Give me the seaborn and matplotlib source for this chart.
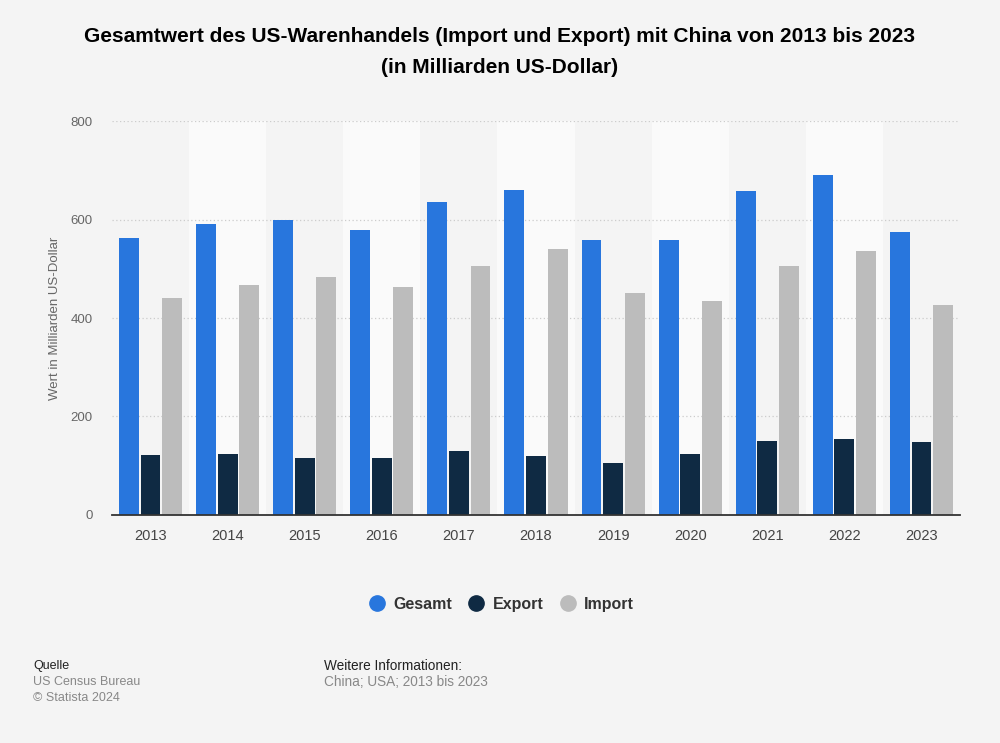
import seaborn as sns
import matplotlib.pyplot as plt
import pandas as pd

# Werte in Milliarden US-Dollar
years = ["2013", "2014", "2015", "2016", "2017", "2018", "2019", "2020", "2021", "2022", "2023"]
gesamt = [562.0, 590.7, 598.1, 578.4, 635.4, 659.8, 558.1, 559.2, 657.4, 690.6, 575.0]
export = [121.7, 123.7, 115.9, 115.6, 129.9, 120.3, 106.4, 124.5, 151.1, 153.8, 147.8]
imports = [440.4, 466.8, 483.2, 462.8, 505.5, 539.5, 451.7, 434.7, 506.4, 536.8, 427.2]
series = ["Gesamt", "Export", "Import"]
colors = ["#2876dd", "#0f2a43", "#bcbcbc"]

df = pd.DataFrame({"Jahr": years * 3,
                   "Serie": [s for s in series for _ in years],
                   "Wert": gesamt + export + imports})

sns.set_style("white")
plt.rcParams["font.family"] = ["Liberation Sans", "DejaVu Sans"]

bg = "#f4f4f4"
fig = plt.figure(figsize=(10, 7.43), dpi=100, facecolor=bg)
ax = fig.add_axes([0.112, 0.307, 0.848, 0.530])
ax.set_facecolor(bg)

# abwechselnde Hintergrundstreifen
for i in range(len(years)):
    if i % 2 == 1:
        ax.axvspan(i - 0.5, i + 0.5, color="#fafafa", zorder=0, lw=0)

for y in [200, 400, 600, 800]:
    ax.axhline(y, color="#cccccc", lw=0.9, ls=(0, (1, 2)), zorder=0.5)

sns.barplot(data=df, x="Jahr", y="Wert", hue="Serie", palette=colors,
            width=0.84, gap=0.08, ax=ax, legend=False, zorder=2,
            edgecolor="none", saturation=1)

ax.set_xlim(-0.5, len(years) - 0.5)
ax.set_ylim(0, 800)
ax.set_yticks([0, 200, 400, 600, 800])
for s in ["top", "right", "left"]:
    ax.spines[s].set_visible(False)
ax.spines["bottom"].set_color("#333333")
ax.spines["bottom"].set_linewidth(1.3)
ax.tick_params(axis="y", length=0, labelsize=9.5, labelcolor="#666666", pad=14)
ax.tick_params(axis="x", length=0, labelsize=10.5, labelcolor="#444444", pad=10)
ax.set_xlabel("")
ax.set_ylabel("Wert in Milliarden US-Dollar", fontsize=9.5, color="#666666", labelpad=7)

fig.text(0.5, 0.951, "Gesamtwert des US-Warenhandels (Import und Export) mit China von 2013 bis 2023",
         ha="center", va="center", fontsize=15, fontweight="bold", color="#000000")
fig.text(0.5, 0.909, "(in Milliarden US-Dollar)",
         ha="center", va="center", fontsize=15, fontweight="bold", color="#000000")

# Legende
handles = [plt.Line2D([], [], marker="o", ls="", markersize=11, color=c) for c in colors]
leg = fig.legend(handles, series, loc="center", bbox_to_anchor=(0.499, 0.187), ncol=3,
                 frameon=False, handletextpad=0.2, handlelength=1.6, columnspacing=0.75,
                 prop={"weight": "bold", "size": 11.5})
for t in leg.get_texts():
    t.set_color("#333333")

# Fußzeile
fig.text(0.033, 0.103, "Quelle", fontsize=9, color="#222222", va="center")
fig.text(0.033, 0.082, "US Census Bureau", fontsize=9, color="#888888", va="center")
fig.text(0.033, 0.061, "© Statista 2024", fontsize=9, color="#888888", va="center")
fig.text(0.324, 0.103, "Weitere Informationen:", fontsize=9.8, color="#222222", va="center")
fig.text(0.324, 0.082, "China; USA; 2013 bis 2023", fontsize=9.8, color="#888888", va="center")

fig.savefig("out.png", dpi=100, facecolor=bg)
